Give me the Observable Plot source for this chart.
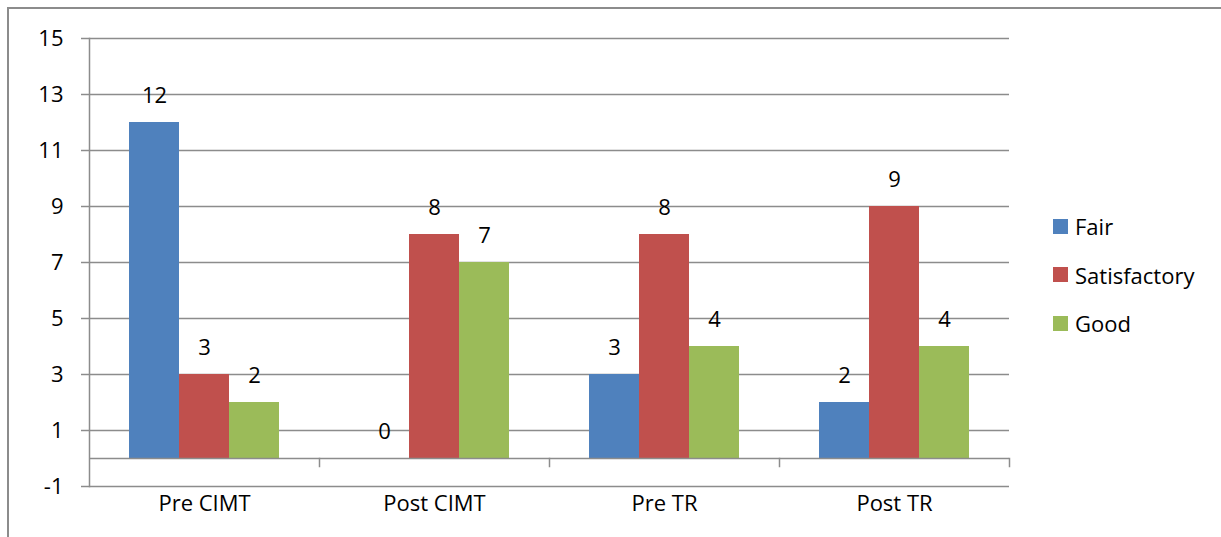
<!DOCTYPE html>
<html>
<head>
<meta charset="utf-8">
<script src="https://cdn.jsdelivr.net/npm/d3@7"></script>
<script src="https://cdn.jsdelivr.net/npm/@observablehq/plot@0.6"></script>
<style>
  html, body { margin: 0; padding: 0; background: #fff; }
  #wrap { position: relative; width: 1221px; height: 537px; overflow: hidden; font-family: "Open Sans", sans-serif; }
  #border { position: absolute; left: 7px; top: 7px; width: 1300px; height: 600px; border-left: 2px solid #8c8c8c; border-top: 2px solid #8c8c8c; box-sizing: border-box; }
  #chart { position: absolute; left: 0; top: 0; }
  #legend { position: absolute; left: 1053px; top: 202px; font-size: 22px; color: #000; }
  .row { display: flex; align-items: center; height: 48.5px; }
  .sw { width: 15px; height: 15px; margin-right: 7px; }
</style>
</head>
<body>
<div id="wrap">
  <div id="chart"></div>
  <div id="border"></div>
  <div id="legend"></div>
</div>
<script>
const categories = ["Pre CIMT", "Post CIMT", "Pre TR", "Post TR"];
const series = ["Fair", "Satisfactory", "Good"];
const colors = ["#4F81BD", "#C0504D", "#9BBB59"];
const fairValues = [12, 0, 3, 2];
const satisfactoryValues = [3, 8, 8, 9];
const goodValues = [2, 7, 4, 4];
const yTicks = [-1, 1, 3, 5, 7, 9, 11, 13, 15];

const valuesBySeries = [fairValues, satisfactoryValues, goodValues];
const data = [];
categories.forEach((c, i) => {
  series.forEach((s, j) => {
    data.push({category: c, series: s, value: valuesBySeries[j][i]});
  });
});

const grey = "#8c8c8c";
const chart = Plot.plot({
  width: 1221,
  height: 537,
  marginLeft: 88,
  marginRight: 211,
  marginTop: 38,
  marginBottom: 51,
  style: {fontFamily: "'Open Sans', sans-serif", fontSize: "22px", color: "#000", background: "transparent"},
  fx: {domain: categories, padding: 0, label: null},
  x: {domain: series, paddingInner: 0, paddingOuter: 0.76, axis: null},
  y: {domain: [-1, 15], label: null},
  color: {domain: series, range: colors},
  marks: [
    Plot.gridY(yTicks, {stroke: grey, strokeOpacity: 1, strokeWidth: 1.5}),
    Plot.barY(data, {fx: "category", x: "series", y: "value", fill: "series"}),
    Plot.ruleY([0], {stroke: grey, strokeWidth: 1.5}),
    Plot.frame({anchor: "right", stroke: grey, strokeWidth: 1.5, insetTop: 420, insetBottom: 20}),
    Plot.frame({anchor: "left", facet: "super", stroke: grey, strokeWidth: 1.5}),
    Plot.text(data, {fx: "category", x: "series", y: "value", text: d => String(d.value), dy: -27, fontSize: 22, fill: "#000"}),
    Plot.axisY(yTicks, {tickSize: 8, tickPadding: 18, stroke: grey, fontSize: 22, fill: "#000", strokeWidth: 1.5, label: null, tickFormat: d => String(d)}),
    Plot.axisFx({anchor: "bottom", tickSize: 0, tickPadding: 9, fontSize: 22, fill: "#000", label: null})
  ]
});
document.getElementById("chart").appendChild(chart);

const legend = document.getElementById("legend");
series.forEach((s, i) => {
  const row = document.createElement("div");
  row.className = "row";
  const sw = document.createElement("div");
  sw.className = "sw";
  sw.style.background = colors[i];
  const label = document.createElement("span");
  label.textContent = s;
  row.appendChild(sw);
  row.appendChild(label);
  legend.appendChild(row);
});
</script>
</body>
</html>
